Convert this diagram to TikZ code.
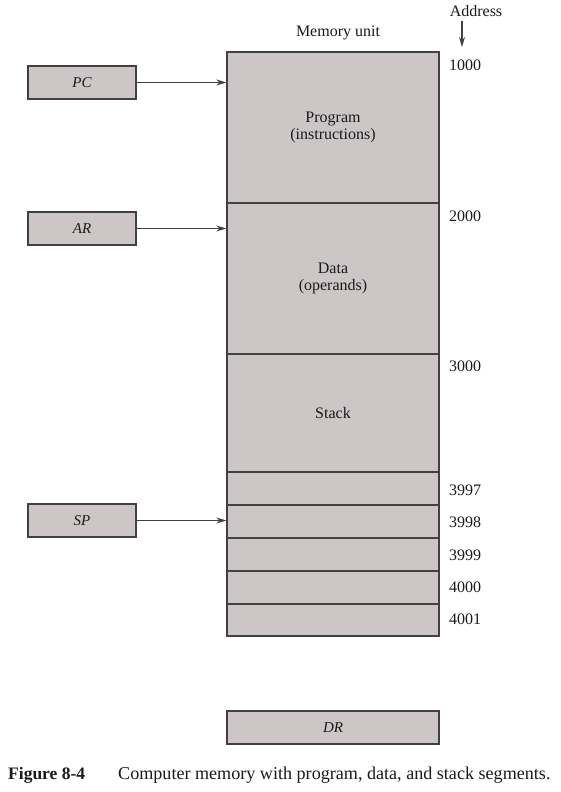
\documentclass[tikz,border=0pt]{standalone}
\usepackage{fontspec}
\setmainfont{Liberation Serif}
\usetikzlibrary{arrows.meta}
\definecolor{cellfill}{HTML}{CCC6C7}
\definecolor{edge}{HTML}{444041}
\definecolor{ink}{HTML}{1A1A1A}
\begin{document}
\begin{tikzpicture}[x=1pt,y=-1pt,
  cell/.style={draw=edge, fill=cellfill, line width=1.3pt, minimum width=212pt, inner sep=0pt, text=ink, align=center, font=\fontsize{16}{17.5}\selectfont},
  reg/.style={draw=edge, fill=cellfill, line width=1.3pt, minimum width=108pt, minimum height=33pt, inner sep=0pt, text=ink, font=\fontsize{15}{15}\selectfont\itshape},
  lbl/.style={inner sep=0pt, text=ink, font=\fontsize{16}{16}\selectfont},
  addr/.style={lbl, anchor=west},
  ptr/.style={-{Stealth[length=10pt,width=6pt]}, draw=edge, line width=1.3pt}]
\useasboundingbox[fill=white] (0,0) rectangle (560,792);

% memory unit
\node[cell, minimum height=151pt] (prog) at (333,127.5) {Program\\(instructions)};
\node[cell, minimum height=151pt] (data) at (333,278.5) {Data\\(operands)};
\node[cell, minimum height=118pt] (stack) at (333,413) {Stack};
\node[cell, minimum height=33pt] (c3997) at (333,488.5) {};
\node[cell, minimum height=33pt] (c3998) at (333,521.5) {};
\node[cell, minimum height=33pt] (c3999) at (333,554.5) {};
\node[cell, minimum height=33pt] (c4000) at (333,587.5) {};
\node[cell, minimum height=32pt] (c4001) at (333,620) {};

\node[lbl] (memlbl) at (338,33) {Memory unit};
\node[lbl] (addrlbl) at (476,11) {Address};
\coordinate (as) at (462,21);
\coordinate (ae) at (462,47);
\draw[ptr] (as) -- (ae);

% addresses
\node[addr] (a1000) at (449,65) {1000};
\node[addr] (a2000) at (449,216) {2000};
\node[addr] (a3000) at (449,366) {3000};
\node[addr] (a3997) at (449,490) {3997};
\node[addr] (a3998) at (449,522) {3998};
\node[addr] (a3999) at (449,555) {3999};
\node[addr] (a4000) at (449,587) {4000};
\node[addr] (a4001) at (449,619) {4001};

% registers
\node[reg] (pc) at (82,82.5) {PC};
\node[reg] (ar) at (82,228.5) {AR};
\node[reg] (sp) at (82,520.5) {SP};
\node[reg, minimum width=212pt] (dr) at (333,727.5) {DR};

\draw[ptr] (pc) -- (pc -| prog.west);
\draw[ptr] (ar) -- (ar -| data.west);
\draw[ptr] (sp) -- (sp -| c3998.west);

% caption
\node[anchor=base west, inner sep=0pt, text=ink, font=\fontsize{17.5}{17.5}\selectfont\bfseries] (capnum) at (8,779) {Figure 8-4};
\node[anchor=base west, inner sep=0pt, text=ink, font=\fontsize{18.1}{18.1}\selectfont] (captext) at (118,779) {Computer memory with program, data, and stack segments.};
\end{tikzpicture}
\end{document}
